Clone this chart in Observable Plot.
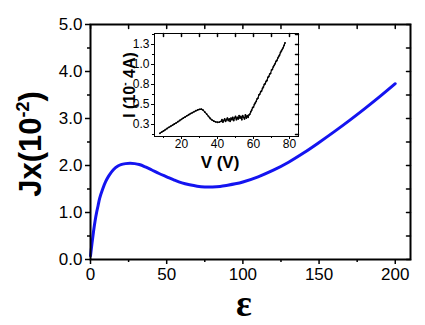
<!DOCTYPE html>
<html>
<head>
<meta charset="utf-8">
<script src="https://cdn.jsdelivr.net/npm/d3@7"></script>
<script src="https://cdn.jsdelivr.net/npm/@observablehq/plot@0.6"></script>
<style>
  body { margin: 0; background: white; }
  #wrap { position: relative; width: 425px; height: 325px; background: white; }
  #wrap svg { position: absolute; }
</style>
</head>
<body>
<div id="wrap"></div>
<script>
// ---- main curve data ----
const eps = [0,1,2,3,4,5,6,8,10,12,15,18,20,23,26,29,32,36,40,45,50,55,60,65,70,75,80,85,90,95,100,110,120,130,140,150,160,170,180,190,200];
const jx  = [0.08,0.35,0.6,0.82,1.0,1.15,1.3,1.5,1.66,1.78,1.91,1.99,2.02,2.04,2.05,2.04,2.02,1.97,1.91,1.83,1.76,1.69,1.63,1.59,1.56,1.545,1.545,1.555,1.58,1.61,1.65,1.76,1.9,2.07,2.27,2.49,2.72,2.96,3.21,3.47,3.74];

const xMajor = [0, 50, 100, 150, 200];
const xMinor = [25, 75, 125, 175];
const yMajor = [0, 1, 2, 3, 4, 5];
const yMajorLabels = ["0.0", "1.0", "2.0", "3.0", "4.0", "5.0"];
const yMinor = [0.5, 1.5, 2.5, 3.5, 4.5];

// ---- inset data (I-V measurement) ----
const insetV = [8,9,10,11,12,13,14,15,16,17,18,19,20,21,22,23,24,25,26,27,28,29,30,31,32,33,34,35,36,37,38,39,40,41,
  42,42.5,43,43.5,44,44.5,45,45.5,46,46.5,47,47.5,48,48.5,49,49.5,50,50.5,51,51.5,52,52.5,53,53.5,54,54.5,55,55.5,56,56.5,57,57.5,
  58,58.5,59,59.5,60,60.5,61,61.5,62,62.5,63,63.5,64,64.5,65,65.5,66,66.5,67,67.5,68,68.5,69,69.5,70,70.5,71,71.5,72,72.5,73,73.5,74,74.5,75,75.5,76,76.5,77,77.5];
const insetI = [0.14,0.155,0.17,0.185,0.2,0.215,0.228,0.242,0.256,0.27,0.285,0.3,0.315,0.33,0.344,0.358,0.372,0.386,0.398,0.41,0.422,0.432,0.44,0.442,0.43,0.405,0.38,0.352,0.325,0.305,0.292,0.283,0.278,0.28,
  0.29,0.31,0.28,0.30,0.32,0.29,0.31,0.33,0.30,0.32,0.29,0.33,0.31,0.34,0.30,0.33,0.35,0.31,0.34,0.32,0.36,0.33,0.35,0.31,0.36,0.34,0.32,0.37,0.33,0.36,0.34,0.37,
  0.38,0.41,0.43,0.46,0.47,0.50,0.52,0.54,0.57,0.58,0.62,0.63,0.66,0.67,0.70,0.72,0.75,0.76,0.79,0.80,0.84,0.85,0.88,0.89,0.93,0.94,0.97,0.99,1.01,1.04,1.05,1.08,1.10,1.12,1.15,1.17,1.19,1.21,1.24,1.27];

const insetXMajor = [20, 40, 60, 80];
const insetXMinor = [10, 30, 50, 70];
const insetYMajor = [0.25, 0.5, 0.75, 1.0, 1.25];
const insetYMajorLabels = ["0.3", "0.5", "0.8", "1.0", "1.3"];
const insetYMinor = [0.125, 0.375, 0.625, 0.875, 1.125, 1.375];

const mainData = eps.map((e, i) => ({e, j: jx[i]}));
const insetData = insetV.map((v, i) => ({v, i: insetI[i]}));

const tickShape = { draw(ctx, l) { ctx.moveTo(0, 0); ctx.lineTo(0, -l); } };

const FONT = "'Liberation Sans', Arial, sans-serif";

const main = Plot.plot({
  width: 425, height: 325,
  marginLeft: 90, marginRight: 15, marginTop: 24, marginBottom: 66,
  style: {fontFamily: FONT, fontSize: "17px", color: "black", background: "transparent", overflow: "visible"},
  x: {domain: [0, 210]},
  y: {domain: [0, 5]},
  marks: [
    Plot.axisX({ticks: xMajor, tickSize: 5, tickPadding: 3, strokeWidth: 1.5, tickFormat: d => String(d), label: null}),
    Plot.axisX({ticks: xMinor, tickSize: 3, strokeWidth: 1.5, tickFormat: () => "", label: null}),
    Plot.axisY({ticks: yMajor, tickSize: 5, tickPadding: 3, strokeWidth: 1.5, tickFormat: d => yMajorLabels[yMajor.indexOf(d)], label: null}),
    Plot.axisY({ticks: yMinor, tickSize: 3, strokeWidth: 1.5, tickFormat: () => "", label: null}),
    Plot.vector(xMajor.concat(xMinor), {x: d => d, frameAnchor: "top", length: 4, rotate: 180, anchor: "start", shape: tickShape, stroke: "black", strokeWidth: 1.5}),
    Plot.vector(yMajor.concat(yMinor), {y: d => d, frameAnchor: "right", length: 4, rotate: -90, anchor: "start", shape: tickShape, stroke: "black", strokeWidth: 1.5}),
    Plot.line(mainData, {x: "e", y: "j", stroke: "#1414f0", strokeWidth: 3, curve: "catmull-rom"}),
    Plot.frame({stroke: "black", strokeWidth: 2})
  ]
});

const wrap = document.getElementById("wrap");
main.style.left = "0px"; main.style.top = "0px";
wrap.appendChild(main);

const ms = d3.select(main);
// y axis title with superscript
const yt = ms.append("text")
  .attr("transform", "translate(41,144) rotate(-90)")
  .attr("text-anchor", "middle")
  .attr("font-family", FONT).attr("font-weight", "bold").attr("font-size", 31).attr("fill", "black");
yt.append("tspan").text("Jx(10");
yt.append("tspan").attr("font-size", 18).attr("dy", -12).text("-2");
yt.append("tspan").attr("dy", 12).text(")");
// x axis title
ms.append("text")
  .attr("x", 244).attr("y", 316)
  .attr("text-anchor", "middle")
  .attr("font-family", "'Liberation Serif', 'Times New Roman', serif").attr("font-weight", "bold").attr("font-size", 37).attr("fill", "black")
  .text("ε");

// ---- inset ----
const inset = Plot.plot({
  width: 190, height: 142,
  marginLeft: 42, marginRight: 4, marginTop: 5, marginBottom: 34,
  style: {fontFamily: FONT, fontSize: "12px", color: "black", background: "transparent", overflow: "visible"},
  x: {domain: [5, 85]},
  y: {domain: [0.1, 1.3875]},
  marks: [
    Plot.frame({fill: "white", stroke: null}),
    Plot.axisX({ticks: insetXMajor, tickSize: 3, tickPadding: 0, tickFormat: d => String(d), label: null}),
    Plot.axisX({ticks: insetXMinor, tickSize: 2, tickFormat: () => "", label: null}),
    Plot.axisY({ticks: insetYMajor, tickSize: 3, tickPadding: 2, tickFormat: d => insetYMajorLabels[insetYMajor.indexOf(d)], label: null}),
    Plot.axisY({ticks: insetYMinor, tickSize: 2, tickFormat: () => "", label: null}),
    Plot.vector(insetXMajor.concat(insetXMinor), {x: d => d, frameAnchor: "top", length: 3, rotate: 180, anchor: "start", shape: tickShape, stroke: "black"}),
    Plot.vector(insetYMajor.concat(insetYMinor), {y: d => d, frameAnchor: "right", length: 3, rotate: -90, anchor: "start", shape: tickShape, stroke: "black"}),
    Plot.line(insetData, {x: "v", y: "i", stroke: "black", strokeWidth: 1.2}),
    Plot.dot(insetData, {x: "v", y: "i", r: 0.9, fill: "black"}),
    Plot.frame({stroke: "black", strokeWidth: 1})
  ]
});
inset.style.left = "112px"; inset.style.top = "28px";
wrap.appendChild(inset);

const is = d3.select(inset);
is.append("text")
  .attr("x", 108).attr("y", 140)
  .attr("text-anchor", "middle")
  .attr("font-family", FONT).attr("font-weight", "bold").attr("font-size", 17).attr("fill", "black")
  .text("V (V)");
const it = is.append("text")
  .attr("transform", "translate(23,57) rotate(-90)")
  .attr("text-anchor", "middle")
  .attr("font-family", FONT).attr("font-weight", "bold").attr("font-size", 16).attr("fill", "black");
it.append("tspan").text("I (10");
it.append("tspan").attr("font-size", 10).attr("dy", -7).text("-");
it.append("tspan").attr("font-size", 16).attr("dy", 7).text(" 4A)");
</script>
</body>
</html>
